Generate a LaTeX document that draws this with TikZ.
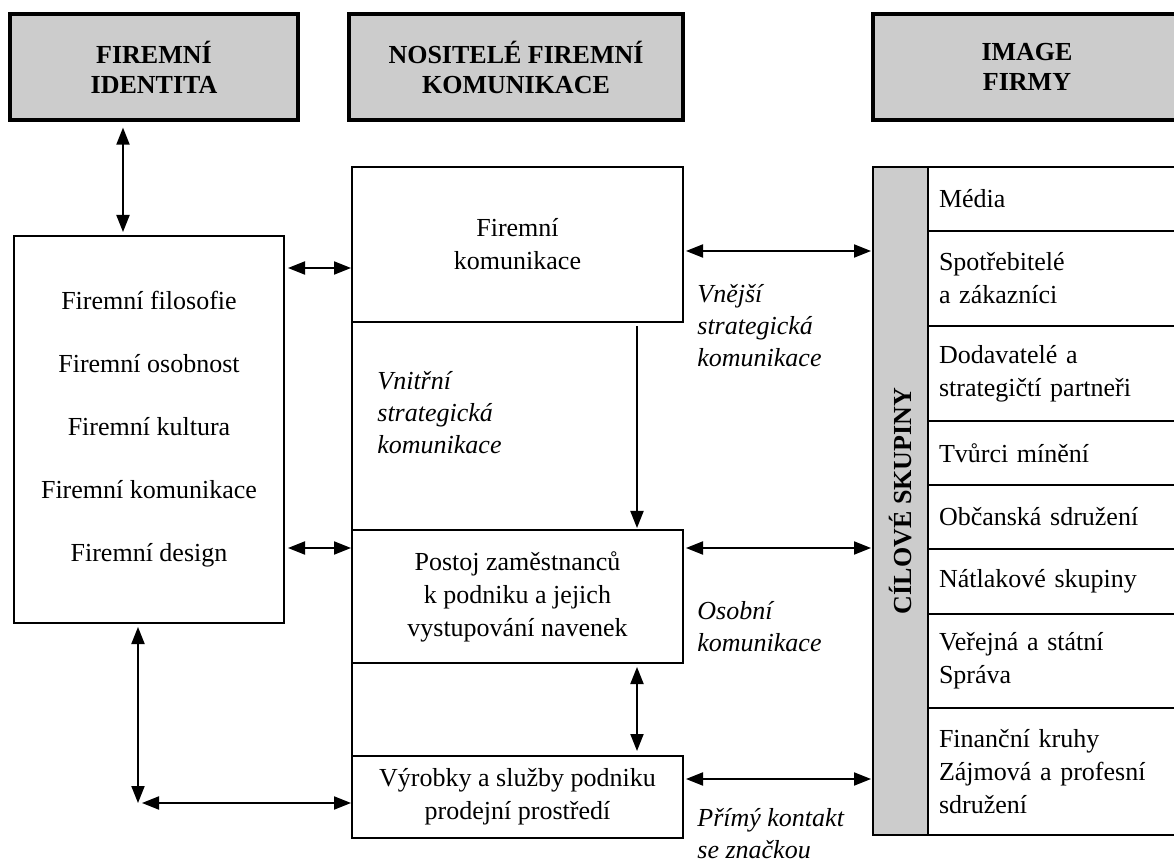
\documentclass[tikz,border=0pt]{standalone}
\usepackage{fontspec}
\setmainfont{Liberation Serif}
\usepackage{graphicx}
\usepackage{tikz}
\usetikzlibrary{arrows.meta}

\tikzset{
	hdr/.style={draw=black, line width=1.6pt, fill=black!20, minimum height=53pt, align=center, font=\fontsize{13}{15}\selectfont\bfseries},
	box/.style={draw=black, line width=1.3pt, align=center, inner sep=0pt, outer sep=0pt},
	grp/.style={draw=black, line width=1.3pt, anchor=north west, minimum height=#1, text width=115pt, inner xsep=5.5pt, inner ysep=0pt, outer sep=0pt, align=left},
	lbl/.style={anchor=west, inner sep=0pt, align=left, font=\fontsize{13}{16}\selectfont\itshape},
	biarrow/.style={{Triangle[length=8.5pt,width=6.5pt]}-{Triangle[length=8.5pt,width=6.5pt]}, line width=1pt},
	onearrow/.style={-{Triangle[length=8.5pt,width=6.5pt]}, line width=1pt}
}

\begin{document}
\begin{tikzpicture}[x=0.5pt, y=-0.5pt, font=\fontsize{13}{16.5}\selectfont]
	\useasboundingbox (0,0) rectangle (1174,866);
	
	\node[hdr, minimum width=144pt] (hid)  at (154, 67)  {FIREMNÍ\\IDENTITA};
	\node[hdr, minimum width=167pt] (hnos) at (516, 67)  {NOSITELÉ FIREMNÍ\\KOMUNIKACE};
	\node[hdr, minimum width=154pt] (himg) at (1027, 67) {IMAGE\\FIRMY};
	
	\node[box, minimum width=135pt, minimum height=193.5pt, font=\fontsize{13}{31.5}\selectfont] (ident) at (149, 429.5)
		{Firemní filosofie\\Firemní osobnost\\Firemní kultura\\Firemní komunikace\\Firemní design};
	
	\node[box, minimum width=165.5pt, minimum height=77.5pt] (kom) at (517.5, 244.5) {Firemní\\komunikace};
	\node[box, minimum width=165.5pt, minimum height=66.5pt] (pos) at (517.5, 596.5) {Postoj zaměstnanců\\k podniku a jejich\\vystupování navenek};
	\node[box, minimum width=165.5pt, minimum height=41pt]   (vyr) at (517.5, 797)   {Výrobky a služby podniku\\prodejní prostředí};
	\draw[line width=1.3pt] (kom.south west) -- (vyr.north west);
	
	\node[draw=black, line width=1.3pt, fill=black!20, minimum width=27.5pt, minimum height=334pt, inner sep=0pt, outer sep=0pt] (strip) at (900.5, 501)
		{\rotatebox{90}{\bfseries CÍLOVÉ SKUPINY}};
	\node[grp=32pt]   (g1) at (928, 167) {Média};
	\node[grp=47.5pt] (g2) at (928, 231) {Spotřebitelé\\a zákazníci};
	\node[grp=47.5pt] (g3) at (928, 326) {Dodavatelé a\\strategičtí partneři};
	\node[grp=32pt]   (g4) at (928, 421) {Tvůrci mínění};
	\node[grp=32pt]   (g5) at (928, 485) {Občanská sdružení};
	\node[grp=32.5pt] (g6) at (928, 549) {Nátlakové skupiny};
	\node[grp=47pt]   (g7) at (928, 614) {Veřejná a státní\\Správa};
	\node[grp=63.5pt] (g8) at (928, 708) {Finanční kruhy\\Zájmová a profesní\\sdružení};
	
	\node[lbl] (lvne) at (697, 326) {Vnější\\strategická\\komunikace};
	\node[lbl] (lvni) at (377, 413) {Vnitřní\\strategická\\komunikace};
	\node[lbl] (loso) at (697, 627) {Osobní\\komunikace};
	\node[lbl] (lpri) at (697, 834) {Přímý kontakt\\se značkou};
	
	\coordinate (xa) at (123, 0);
	\coordinate (xb) at (138, 0);
	\coordinate (xc) at (637, 0);
	\coordinate (ya) at (0, 268);
	\coordinate (yb) at (0, 548);
	\coordinate (yc) at (0, 803);
	\coordinate (yd) at (0, 251);
	\coordinate (ye) at (0, 779);
	
	\path[biarrow, shorten <=3pt, shorten >=2pt] (hid.south -| xa) edge (ident.north -| xa);
	\path[biarrow, shorten <=2pt, shorten >=0.5pt] (ident.east |- ya) edge (kom.west |- ya);
	\path[biarrow, shorten <=2pt, shorten >=0.5pt] (ident.east |- yb) edge (pos.west |- yb);
	\path[biarrow, shorten <=2pt] (ident.south -| xb) edge (xb |- yc);
	\path[biarrow, shorten <=2pt, shorten >=0.5pt] (xb |- yc) edge (vyr.west |- yc);
	\path[onearrow, shorten <=2pt, shorten >=1pt] (kom.south -| xc) edge (pos.north -| xc);
	\path[biarrow, shorten <=2pt, shorten >=2.5pt] (pos.south -| xc) edge (vyr.north -| xc);
	\path[biarrow, shorten <=1.5pt, shorten >=1pt] (kom.east |- yd) edge (strip.west |- yd);
	\path[biarrow, shorten <=1.5pt, shorten >=1pt] (pos.east |- yb) edge (strip.west |- yb);
	\path[biarrow, shorten <=1.5pt, shorten >=1pt] (vyr.east |- ye) edge (strip.west |- ye);

\end{tikzpicture}
\end{document}
